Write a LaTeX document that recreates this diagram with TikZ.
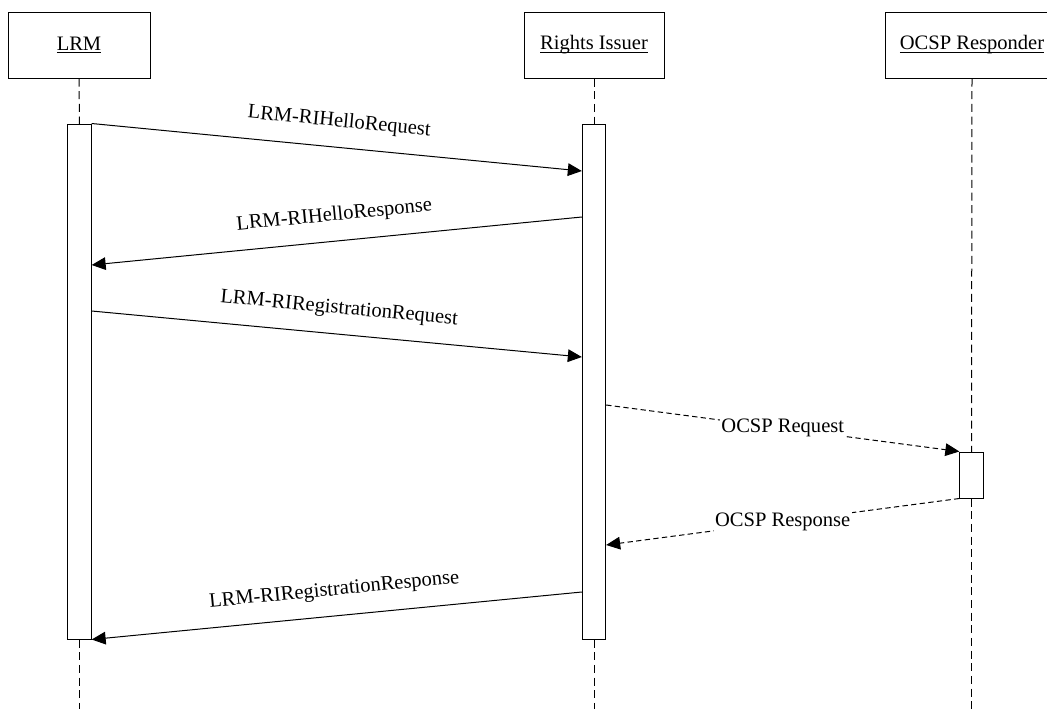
\documentclass[tikz,border=0pt]{standalone}
\usepackage{fontspec}
\setmainfont{Liberation Serif}
\usetikzlibrary{arrows.meta}
\newcommand{\myul}[1]{\setbox0\hbox{#1}\rlap{\rule[-1.9pt]{\wd0}{0.6pt}}\box0}
\begin{document}
\begin{tikzpicture}[x=0.75pt,y=-0.75pt,
  txt/.style={font=\fontsize{15.4pt}{18pt}\selectfont},
  actor/.style={draw, line width=0.75pt, minimum width=#1, minimum height=49.5pt, inner sep=0pt, txt},
  bar/.style={draw, fill=white, line width=0.75pt, minimum width=17.5pt, inner sep=0pt},
  life/.style={line width=0.75pt, dash pattern=on 6pt off 3.5pt},
  msg/.style={line width=0.75pt, -{Triangle[length=10.5pt,width=9.5pt]}},
  dmsg/.style={msg, dash pattern=on 4pt off 2.5pt},
  lbl/.style={sloped, above=15pt, inner sep=0pt, text depth=0pt, txt},
  olbl/.style={fill=white, inner sep=1pt, txt}
]
\useasboundingbox (0,0) rectangle (1047,708);
\fill[white] (0,0) rectangle (1047,708);
\clip (0,0) rectangle (1047,708);

% actors
\node[actor=106.5pt] (lrm)  at (79,45)  {\myul{LRM}};
\node[actor=105pt]   (ri)   at (594,45) {\myul{Rights Issuer}};
\node[actor=130.5pt] (ocsp) at (972,45) {\myul{OCSP Responder}};

% lifeline ends
\coordinate (lrmend)  at (79.5,720);
\coordinate (riend)   at (594,720);
\coordinate (ocspend) at (971.5,720);

% lifelines (upper parts)
\draw[life] (lrm.south) -- (79.5,124);
\draw[life] (ri.south) -- (594,124);
\draw[life] (ocsp.south) -- (971.5,452);

% activation bars
\node[bar, minimum height=386.25pt] (lrmbar)  at (79.5,381.5) {};
\node[bar, minimum height=386.25pt] (ribar)   at (594,381.5)  {};
\node[bar, minimum height=34.5pt]   (ocspbar) at (971.5,475)  {};

% lifelines (lower parts)
\draw[life] (lrmbar.south) -- (lrmend);
\draw[life] (ribar.south) -- (riend);
\draw[life] (ocspbar.south) -- (ocspend);

% messages
\draw[msg] (lrmbar.north east) -- (ribar.west |- 0,171)
  node[midway, lbl] {LRM-RIHelloRequest};
\draw[msg] (ribar.west |- 0,217) -- (lrmbar.east |- 0,265)
  node[midway, lbl] {LRM-RIHelloResponse};
\draw[msg] (lrmbar.east |- 0,311) -- (ribar.west |- 0,357)
  node[midway, lbl] {LRM-RIRegistrationRequest};
\draw[dmsg] (ribar.east |- 0,405) -- (ocspbar.north west)
  node[midway, olbl] {OCSP Request};
\draw[dmsg] (ocspbar.south west) -- (ribar.east |- 0,545)
  node[midway, olbl] {OCSP Response};
\draw[msg] (ribar.west |- 0,592) -- (lrmbar.south east)
  node[midway, lbl] {LRM-RIRegistrationResponse};
\end{tikzpicture}
\end{document}
